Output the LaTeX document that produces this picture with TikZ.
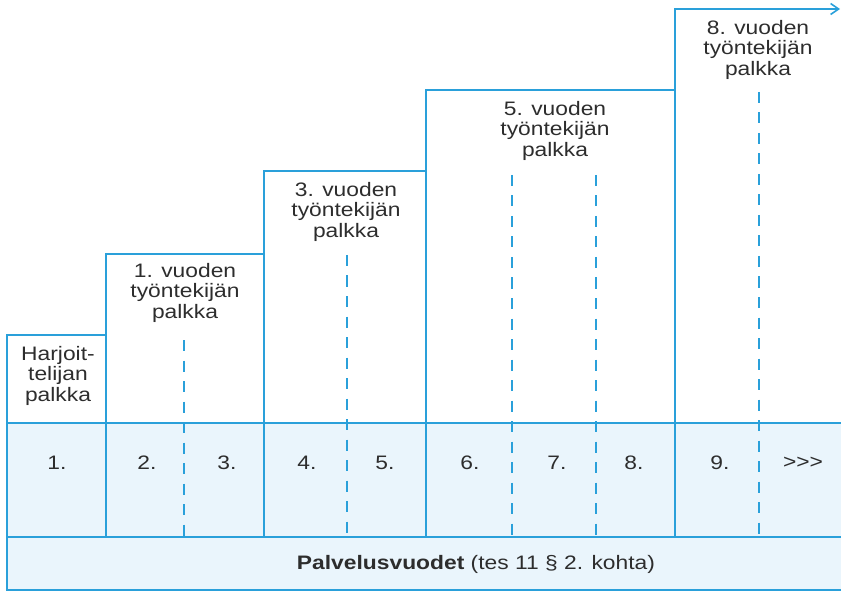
\documentclass[tikz,border=0pt]{standalone}
\usepackage{fontspec}
\setmainfont{Liberation Sans}
\newfontfamily\lblfont[FakeStretch=1.17]{Liberation Sans}
\usetikzlibrary{arrows.meta}
\definecolor{stepblue}{RGB}{42,160,218}
\definecolor{bandfill}{RGB}{234,245,252}
\definecolor{textgray}{RGB}{45,45,45}

\begin{document}
\begin{tikzpicture}[x=1pt, y=-1pt,
    stepline/.style={stepblue, line width=2.2pt, line join=miter},
    yearline/.style={stepblue, line width=2pt, dash pattern=on 11pt off 9.5pt},
    paylabel/.style={align=center, text=textgray, inner sep=0pt,
        font=\lblfont\fontsize{19.5}{20.5}\selectfont, anchor=north},
    yearnum/.style={text=textgray, inner sep=0pt,
        font=\lblfont\fontsize{19.5}{20.5}\selectfont}
]
    \useasboundingbox (0,0) rectangle (841,596);
    % band of years and bottom strip
    \fill[bandfill] (7,423) rectangle (841,590);
    % staircase
    \draw[stepline, -{Straight Barb[length=8pt, width=11pt, line width=1.6pt]}]
        (7,590) -- (7,335) -- (106,335) -- (106,254) -- (264,254)
        -- (264,171) -- (426,171) -- (426,90) -- (675,90) -- (675,9) -- (840,9);
    \draw[stepline] (7,423) -- (841,423);
    \draw[stepline] (7,537) -- (841,537);
    \draw[stepline] (5.9,590) -- (841,590);
    \draw[stepline] (106,335) -- (106,537);
    \draw[stepline] (264,254) -- (264,537);
    \draw[stepline] (426,171) -- (426,537);
    \draw[stepline] (675,90) -- (675,537);
    % dashed year borders
    \draw[yearline] (184,340) -- (184,537);
    \draw[yearline] (347,255) -- (347,537);
    \draw[yearline] (512,175) -- (512,537);
    \draw[yearline] (596,175) -- (596,537);
    \draw[yearline] (759,92) -- (759,537);
    % pay labels
    \node[paylabel] (harj) at (58,346) {Harjoit-\\telijan\\palkka};
    \node[paylabel] (v1) at (185,263) {1. vuoden\\työntekijän\\palkka};
    \node[paylabel] (v3) at (346,182) {3. vuoden\\työntekijän\\palkka};
    \node[paylabel] (v5) at (555,101) {5. vuoden\\työntekijän\\palkka};
    \node[paylabel] (v8) at (758,20) {8. vuoden\\työntekijän\\palkka};
    % years
    \node[yearnum] (y1) at (57,463) {1.};
    \node[yearnum] (y2) at (147,463) {2.};
    \node[yearnum] (y3) at (227,463) {3.};
    \node[yearnum] (y4) at (307,463) {4.};
    \node[yearnum] (y5) at (385,463) {5.};
    \node[yearnum] (y6) at (470,463) {6.};
    \node[yearnum] (y7) at (557,463) {7.};
    \node[yearnum] (y8) at (634,463) {8.};
    \node[yearnum] (y9) at (720,463) {9.};
    \node[yearnum] (ymore) at (803,463) {>>>};
    \node[yearnum] (vuodet) at (476,564) {\textbf{Palvelusvuodet} (tes 11 \S\ 2. kohta)};
\end{tikzpicture}
\end{document}
